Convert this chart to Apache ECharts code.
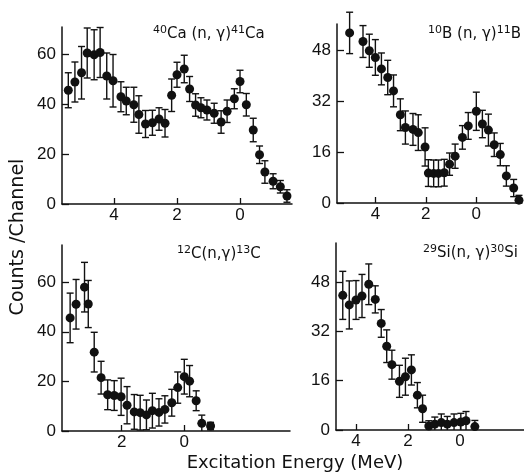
<!DOCTYPE html>
<html>
<head>
<meta charset="utf-8">
<style type="text/css">
	html, body{
		margin: 0;
		padding: 0;
		background: #fff;
	}
	#chart_box{
		width: 524px;
		height: 474px;
	}
</style>
<script type="text/javascript" src="https://cdn.jsdelivr.net/npm/echarts@6.0.0/dist/echarts.min.js"></script>
</head>
<body>
<div id="chart_box"></div>

<script type="text/javascript">
// 40Ca(n,g)41Ca
var ca_energy = [5.45, 5.24, 5.03, 4.85, 4.63, 4.44, 4.23, 4.03, 3.78, 3.61, 3.37, 3.21, 3.00, 2.78, 2.57, 2.38, 2.17, 2.00, 1.77, 1.60, 1.41, 1.24, 1.05, 0.82, 0.60, 0.41, 0.18, 0.00, -0.20, -0.42, -0.62, -0.79, -1.05, -1.28, -1.49];
var ca_counts = [45.5, 48.8, 52.5, 60.4, 59.7, 60.6, 51.2, 49.3, 42.9, 41.2, 39.7, 35.8, 32.0, 32.5, 34.0, 32.3, 43.5, 51.7, 54.0, 46.0, 39.6, 38.5, 37.6, 36.3, 32.8, 37.1, 42.1, 49.0, 39.7, 29.6, 19.7, 12.8, 9.1, 6.9, 3.2];
var ca_error = [7, 8, 10.5, 10, 10, 10, 9.2, 10.5, 6, 5.5, 7, 7.5, 5.4, 5, 4.5, 5.5, 6.5, 5, 5.5, 5, 4.5, 4, 4, 4, 4.5, 4.5, 4, 4.5, 4.5, 4.7, 3.5, 4.5, 3, 2.5, 2.5];

// 10B(n,g)11B
var b_energy = [5.02, 4.49, 4.24, 4.00, 3.76, 3.51, 3.28, 3.01, 2.81, 2.51, 2.30, 2.03, 1.90, 1.69, 1.50, 1.27, 1.06, 0.84, 0.55, 0.32, 0.00, -0.24, -0.48, -0.71, -0.95, -1.19, -1.48, -1.69];
var b_counts = [53.4, 50.7, 47.8, 45.7, 42.1, 39.4, 35.2, 27.7, 23.7, 23.1, 22.1, 17.6, 9.4, 9.3, 9.3, 9.5, 12.2, 14.7, 20.6, 24.2, 28.8, 24.8, 22.9, 18.3, 15.2, 8.5, 4.7, 0.9];
var b_error = [6.5, 5, 5.2, 5.6, 5, 5.4, 5, 5, 5.2, 5, 5.6, 6, 4.2, 4.2, 4.2, 4.2, 3.5, 3.8, 3.7, 4.2, 6, 4.3, 5, 3.7, 3.5, 3.2, 2.7, 1.5];

// 12C(n,g)13C
var c_energy = [3.65, 3.46, 3.19, 3.07, 2.88, 2.66, 2.45, 2.24, 2.02, 1.83, 1.60, 1.41, 1.21, 1.02, 0.81, 0.62, 0.40, 0.21, 0.00, -0.17, -0.38, -0.56, -0.84];
var c_counts = [45.6, 51.1, 58.0, 51.2, 31.8, 21.5, 14.6, 14.3, 13.8, 10.4, 7.7, 7.4, 6.5, 8.2, 7.5, 8.7, 11.4, 17.5, 21.9, 20.1, 12.2, 3.1, 2.0];
var c_error = [10, 10, 10, 9.5, 8, 6.6, 6, 6, 7.5, 7.5, 7, 7, 6, 7, 5.5, 5.5, 5.4, 6.3, 7, 6.3, 4, 3.3, 1.5];

// 29Si(n,g)30Si
var si_energy = [4.51, 4.26, 4.00, 3.77, 3.51, 3.26, 3.03, 2.82, 2.62, 2.33, 2.10, 1.87, 1.64, 1.44, 1.20, 0.97, 0.72, 0.49, 0.23, -0.03, -0.23, -0.57];
var si_counts = [43.7, 40.6, 42.2, 43.5, 47.3, 42.4, 34.6, 27.2, 21.2, 15.8, 17.3, 19.5, 11.3, 6.9, 1.3, 1.9, 2.4, 1.9, 2.4, 2.6, 3.0, 1.1];
var si_error = [7.8, 7.8, 6.3, 7, 6.6, 4.4, 4.5, 5.3, 4.7, 5.2, 6, 4.9, 4.1, 4.4, 1.7, 2.3, 2.8, 2.5, 2.8, 2.8, 3, 2];

var x_ticks_top = [4, 2, 0];
var x_ticks_c = [2, 0];
var y_ticks_20 = [0, 20, 40, 60];
var y_ticks_16 = [0, 16, 32, 48];

var ink = '#111';
var tick_font = 'Liberation Sans';

var panels = [
	{ grid: {left: 62, top: 27, width: 230, height: 177}, xMin: -1.65, xMax: 5.65, yMax: 70.8, xTicks: x_ticks_top, yTicks: y_ticks_20,
	  energy: ca_energy, counts: ca_counts, error: ca_error },
	{ grid: {left: 337, top: 24, width: 185, height: 179}, xMin: -1.81, xMax: 5.52, yMax: 56.2, xTicks: x_ticks_top, yTicks: y_ticks_16,
	  energy: b_energy, counts: b_counts, error: b_error },
	{ grid: {left: 62, top: 245, width: 228, height: 186}, xMin: -3.38, xMax: 3.91, yMax: 75, xTicks: x_ticks_c, yTicks: y_ticks_20,
	  energy: c_energy, counts: c_counts, error: c_error },
	{ grid: {left: 336, top: 243, width: 188, height: 187}, xMin: -2.46, xMax: 4.77, yMax: 60.7, xTicks: x_ticks_top, yTicks: y_ticks_16,
	  energy: si_energy, counts: si_counts, error: si_error }
];

function errorBar(params, api) {
	var x = api.value(0);
	var c = api.value(1);
	var e = api.value(2);
	var lo = Math.max(0, c - e);
	var hi = c + e;
	var pHi = api.coord([x, hi]);
	var pLo = api.coord([x, lo]);
	var w = 3.5;
	var style = { stroke: ink, lineWidth: 1.4 };
	var children = [
		{ type: 'line', shape: {x1: pHi[0], y1: pHi[1], x2: pLo[0], y2: pLo[1]}, style: style },
		{ type: 'line', shape: {x1: pHi[0] - w, y1: pHi[1], x2: pHi[0] + w, y2: pHi[1]}, style: style }
	];
	if (lo > 0) {
		children.push({ type: 'line', shape: {x1: pLo[0] - w, y1: pLo[1], x2: pLo[0] + w, y2: pLo[1]}, style: style });
	}
	return { type: 'group', children: children };
}

var grids = [], xAxes = [], yAxes = [], series = [];
panels.forEach(function(p, i) {
	grids.push(p.grid);
	xAxes.push({
		gridIndex: i,
		type: 'value',
		inverse: true,
		min: p.xMin,
		max: p.xMax,
		axisLine: { onZero: false, lineStyle: { color: ink, width: 1.5 } },
		axisTick: { inside: true, length: 6, customValues: p.xTicks, lineStyle: { color: ink, width: 1.3 } },
		axisLabel: { customValues: p.xTicks, color: ink, fontSize: 17, fontFamily: tick_font, margin: 3 },
		splitLine: { show: false }
	});
	yAxes.push({
		gridIndex: i,
		type: 'value',
		min: 0,
		max: p.yMax,
		axisLine: { show: true, onZero: false, lineStyle: { color: ink, width: 1.5 } },
		axisTick: { show: true, inside: true, length: 7, customValues: p.yTicks, lineStyle: { color: ink, width: 1.3 } },
		axisLabel: { customValues: p.yTicks, color: ink, fontSize: 17, fontFamily: tick_font, margin: 6 },
		splitLine: { show: false }
	});
	var pts = [], bars = [];
	for (var k = 0; k < p.energy.length; k++) {
		pts.push([p.energy[k], p.counts[k]]);
		bars.push([p.energy[k], p.counts[k], p.error[k]]);
	}
	series.push({
		type: 'custom',
		xAxisIndex: i,
		yAxisIndex: i,
		renderItem: errorBar,
		clip: false,
		silent: true,
		encode: { x: 0, y: 1 },
		data: bars,
		z: 2
	});
	series.push({
		type: 'scatter',
		xAxisIndex: i,
		yAxisIndex: i,
		symbol: 'circle',
		symbolSize: 9,
		itemStyle: { color: ink, opacity: 1 },
		silent: true,
		data: pts,
		z: 3
	});
});

var title_rich = {
	s: { fontSize: 11, fontFamily: 'DejaVu Sans', color: ink, padding: [0, 0, 8, 0] },
	m: { fontSize: 15, fontFamily: 'DejaVu Sans', color: ink }
};
function panelTitle(left, top, text) {
	return { type: 'text', left: left, top: top, style: { text: text, rich: title_rich, fill: ink } };
}

var option = {
	backgroundColor: '#fff',
	animation: false,
	grid: grids,
	xAxis: xAxes,
	yAxis: yAxes,
	series: series,
	graphic: [
		panelTitle(153, 25, '{s|40}{m|Ca (n, γ)}{s|41}{m|Ca}'),
		panelTitle(428, 25, '{s|10}{m|B (n, γ)}{s|11}{m|B}'),
		panelTitle(177, 245, '{s|12}{m|C(n,γ)}{s|13}{m|C}'),
		panelTitle(423, 244, '{s|29}{m|Si(n, γ)}{s|30}{m|Si}'),
		{
			type: 'text', x: 18, y: 237, rotation: Math.PI / 2,
			style: { text: 'Counts /Channel', fill: ink, font: '19px "DejaVu Sans"', align: 'center', verticalAlign: 'middle' }
		},
		{
			type: 'text', x: 295, y: 463,
			style: { text: 'Excitation Energy (MeV)', fill: ink, font: '18px "DejaVu Sans"', align: 'center', verticalAlign: 'middle' }
		}
	]
};

var myChart = echarts.init(document.getElementById('chart_box'));
myChart.setOption(option);
</script>
</body>
</html>
